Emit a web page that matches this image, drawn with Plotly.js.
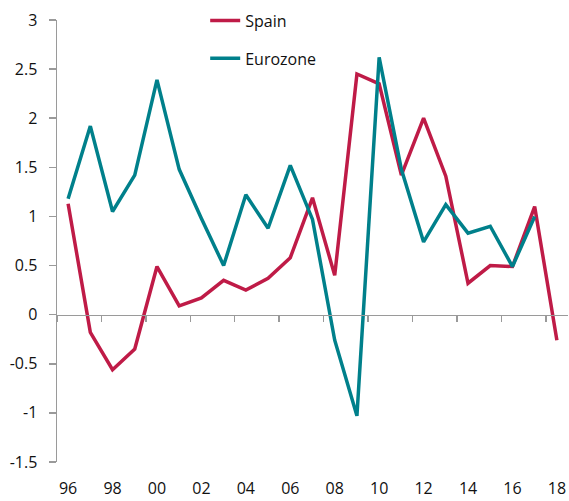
<!DOCTYPE html>
<html>
<head>
<meta charset="utf-8">
<script src="https://cdn.plot.ly/plotly-3.0.1.min.js"></script>
<style>html,body{margin:0;padding:0;background:#fff;}#chart{width:569px;height:501px;}</style>
</head>
<body>
<div id="chart"></div>
<script>
const years = [1996,1997,1998,1999,2000,2001,2002,2003,2004,2005,2006,2007,2008,2009,2010,2011,2012,2013,2014,2015,2016,2017,2018];
const spain = [1.13,-0.18,-0.56,-0.35,0.49,0.09,0.17,0.35,0.25,0.37,0.58,1.19,0.40,2.45,2.35,1.42,2.00,1.41,0.32,0.50,0.49,1.10,-0.26];
const eurozone = [1.18,1.92,1.05,1.42,2.39,1.48,0.98,0.50,1.22,0.88,1.52,0.97,-0.26,-1.03,2.62,1.48,0.74,1.12,0.83,0.90,0.49,1.00,null];
const xTickVals = [1996,1998,2000,2002,2004,2006,2008,2010,2012,2014,2016,2018];
const xTickText = ['96','98','00','02','04','06','08','10','12','14','16','18'];
const xTickMarks = [1995.5,1997.5,1999.5,2001.5,2003.5,2005.5,2007.5,2009.5,2011.5,2013.5,2015.5,2017.5];
const yTickVals = [-1.5,-1,-0.5,0,0.5,1,1.5,2,2.5,3];
const yTickText = ['-1.5','-1','-0.5','0','0.5','1','1.5','2','2.5','3'];

const RED = '#BF1B47';
const TEAL = '#00808B';
const AXIS = '#9A9A9A';
const FONT = 'Open Sans, Noto Sans, sans-serif';

const traces = [
  {x: years, y: spain, name: 'Spain', type: 'scatter', mode: 'lines',
   line: {color: RED, width: 3.5}, legendgroup: 'a'},
  {x: years, y: eurozone, name: 'Eurozone', type: 'scatter', mode: 'lines',
   line: {color: TEAL, width: 3.5}, legendgroup: 'b', connectgaps: false},
  {x: [], y: [], xaxis: 'x2', yaxis: 'y', showlegend: false, hoverinfo: 'skip', type: 'scatter', mode: 'lines'}
];

const layout = {
  width: 569, height: 501,
  margin: {l: 57, r: 1, t: 20, b: 39},
  paper_bgcolor: '#fff', plot_bgcolor: '#fff',
  font: {family: FONT, size: 16, color: '#111'},
  showlegend: true,
  legend: {x: 0.29, xanchor: 'left', y: 1.037, yanchor: 'top', bgcolor: 'rgba(0,0,0,0)',
           font: {family: FONT, size: 16, color: '#111'}, tracegroupgap: 14},
  xaxis: {range: [1995.5, 2018.5], tickvals: xTickVals, ticktext: xTickText,
          ticks: '', showline: false, showgrid: false, zeroline: false,
          ticklabelstandoff: 15, tickfont: {family: FONT, size: 16, color: '#111'}},
  xaxis2: {overlaying: 'x', anchor: 'free', position: 1/3, range: [1995.5, 2018.5],
           tickvals: xTickMarks, showticklabels: false, ticks: 'outside', ticklen: 6,
           tickcolor: AXIS, tickwidth: 1.5, showline: true, linecolor: AXIS, linewidth: 1.5,
           showgrid: false, zeroline: false},
  yaxis: {range: [-1.5, 3], tickvals: yTickVals, ticktext: yTickText,
          ticks: 'outside', ticklen: 7, tickcolor: AXIS, tickwidth: 1.5,
          showline: true, linecolor: AXIS, linewidth: 1.5, showgrid: false, zeroline: false,
          ticklabelstandoff: 8, tickfont: {family: FONT, size: 16, color: '#111'}}
};

Plotly.newPlot('chart', traces, layout, {displayModeBar: false, staticPlot: true});
</script>
</body>
</html>
